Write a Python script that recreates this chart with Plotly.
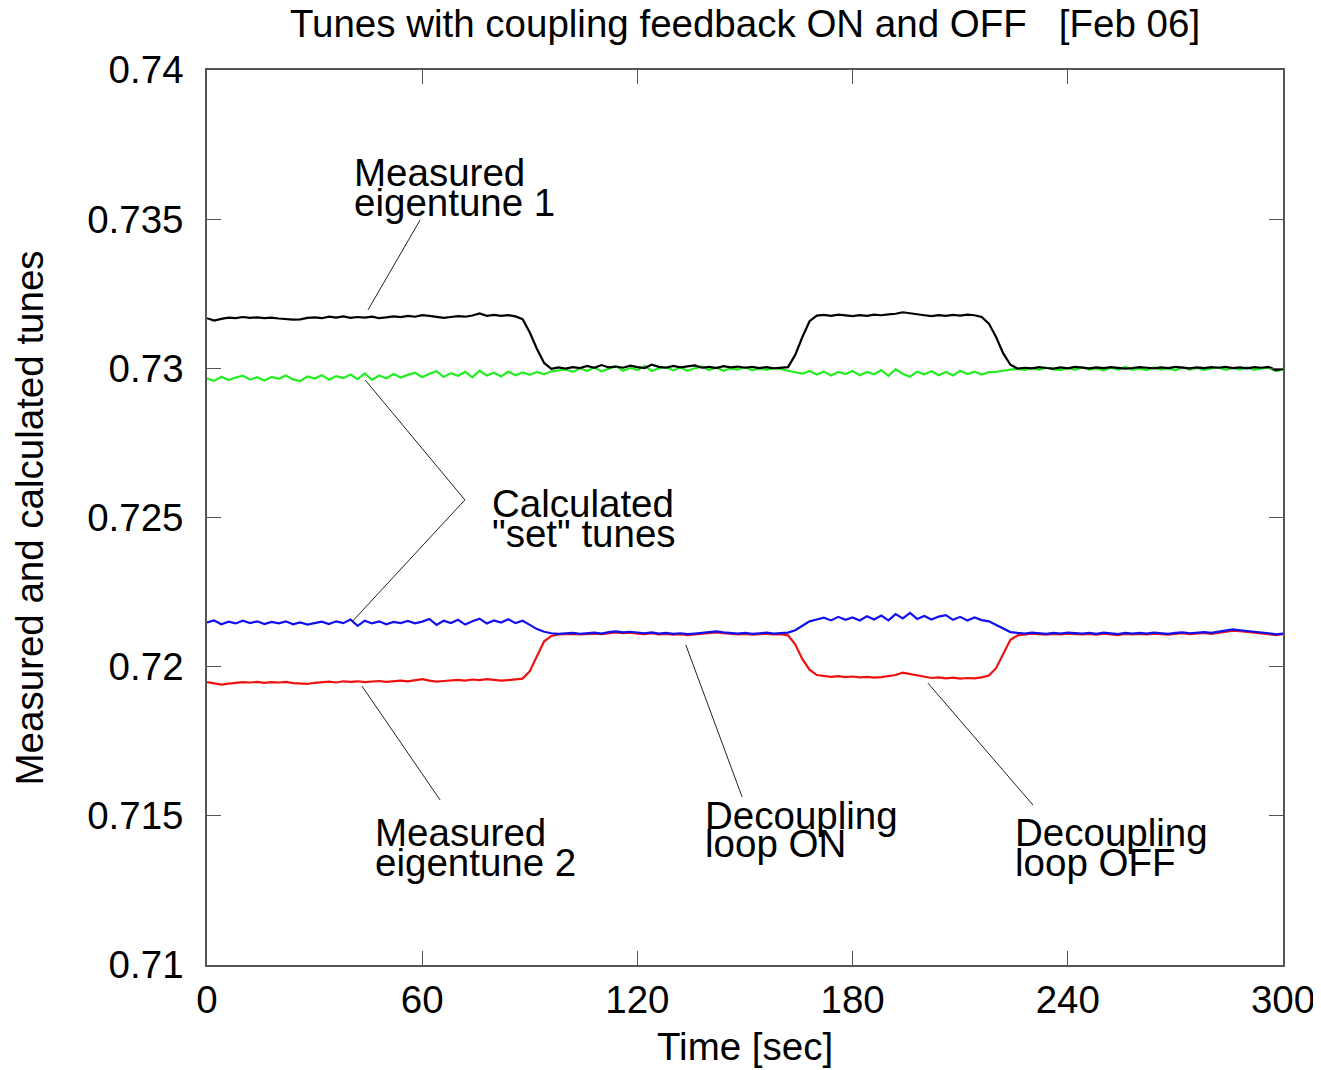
import plotly.graph_objects as go

time_sec = list(range(0, 301, 2))

eigentune_1 = [
    0.73168, 0.73160, 0.73166, 0.73170, 0.73168, 0.73172, 0.73169, 0.73171, 0.73168, 0.73170,
    0.73167, 0.73165, 0.73163, 0.73164, 0.73169, 0.73171, 0.73168, 0.73173, 0.73170, 0.73174,
    0.73169, 0.73172, 0.73170, 0.73173, 0.73168, 0.73171, 0.73174, 0.73172, 0.73176, 0.73173,
    0.73178, 0.73176, 0.73172, 0.73169, 0.73172, 0.73175, 0.73173, 0.73177, 0.73184, 0.73176,
    0.73179, 0.73176, 0.73178, 0.73174, 0.73165, 0.73120, 0.73065, 0.73018, 0.72998, 0.73003,
    0.72999, 0.73004, 0.73001, 0.73008, 0.73002, 0.73011, 0.73003, 0.73006, 0.73002, 0.73009,
    0.73004, 0.73001, 0.73012, 0.73005, 0.73002, 0.73008, 0.73003, 0.73006, 0.73010, 0.73002,
    0.73005, 0.73001, 0.73007, 0.73003, 0.73006, 0.73002, 0.73005, 0.73001, 0.73004, 0.73000,
    0.73002, 0.73004, 0.73045, 0.73105, 0.73158, 0.73177, 0.73179, 0.73176, 0.73180, 0.73177,
    0.73175, 0.73178, 0.73176, 0.73180, 0.73178, 0.73181, 0.73183, 0.73188, 0.73184, 0.73180,
    0.73178, 0.73175, 0.73178, 0.73176, 0.73179, 0.73177, 0.73180, 0.73178, 0.73172, 0.73150,
    0.73105, 0.73050, 0.73012, 0.72999, 0.73002, 0.73000, 0.73004, 0.73001, 0.72999, 0.73003,
    0.73000, 0.73005, 0.73002, 0.73000, 0.73003, 0.73001, 0.73004, 0.73002, 0.72999, 0.73001,
    0.73004, 0.73002, 0.73000, 0.73003, 0.73001, 0.73005, 0.73002, 0.73000, 0.73003, 0.73001,
    0.73004, 0.73002, 0.73005, 0.73001, 0.73003, 0.73000, 0.73004, 0.73002, 0.73005, 0.72994,
    0.72998,
]

set_tune_1 = [
    0.72966, 0.72958, 0.72972, 0.72961, 0.72969, 0.72975, 0.72962, 0.72970, 0.72959, 0.72971,
    0.72965, 0.72976, 0.72963, 0.72957, 0.72973, 0.72966, 0.72977, 0.72962, 0.72974, 0.72967,
    0.72979, 0.72964, 0.72983, 0.72961, 0.72976, 0.72967, 0.72981, 0.72969, 0.72978, 0.72985,
    0.72970, 0.72982, 0.72990, 0.72971, 0.72984, 0.72975, 0.72988, 0.72970, 0.72992, 0.72976,
    0.72985, 0.72973, 0.72989, 0.72977, 0.72986, 0.72978, 0.72988, 0.72980, 0.72990, 0.72992,
    0.72996, 0.72988, 0.73000, 0.72991, 0.73003, 0.72990, 0.72998, 0.73007, 0.72992, 0.73001,
    0.72994, 0.73008, 0.72991, 0.73000, 0.73004, 0.72993, 0.73003, 0.72992, 0.73000, 0.73006,
    0.72994, 0.73003, 0.72992, 0.73000, 0.72996, 0.73004, 0.72993, 0.73000, 0.72995, 0.73001,
    0.72997, 0.72991, 0.72987, 0.72982, 0.72991, 0.72979, 0.72989, 0.72976, 0.72988, 0.72981,
    0.72991, 0.72977, 0.72988, 0.72980, 0.72994, 0.72975, 0.72997, 0.72981, 0.72972, 0.72989,
    0.72980, 0.72990, 0.72977, 0.72988, 0.72976, 0.72992, 0.72981, 0.72989, 0.72979, 0.72987,
    0.72988, 0.72992, 0.72996, 0.72999, 0.72994, 0.73001, 0.72995, 0.73002, 0.72996, 0.72994,
    0.73001, 0.72995, 0.73004, 0.72996, 0.73000, 0.72993, 0.73002, 0.72996, 0.73005, 0.72995,
    0.73000, 0.72994, 0.73003, 0.72996, 0.73000, 0.72993, 0.73004, 0.72996, 0.73001, 0.72995,
    0.73000, 0.73003, 0.72995, 0.73001, 0.72996, 0.73003, 0.72995, 0.73000, 0.73002, 0.72991,
    0.72996,
]

set_tune_2 = [
    0.72148, 0.72155, 0.72142, 0.72151, 0.72145, 0.72154, 0.72146, 0.72152, 0.72143, 0.72150,
    0.72145, 0.72152, 0.72142, 0.72148, 0.72141, 0.72147, 0.72151, 0.72143, 0.72152, 0.72146,
    0.72158, 0.72137, 0.72154, 0.72145, 0.72152, 0.72142, 0.72150, 0.72146, 0.72153, 0.72145,
    0.72151, 0.72160, 0.72140, 0.72154, 0.72146, 0.72157, 0.72141, 0.72152, 0.72161, 0.72145,
    0.72155, 0.72148, 0.72159, 0.72146, 0.72154, 0.72140, 0.72126, 0.72117, 0.72112, 0.72110,
    0.72111, 0.72113, 0.72110, 0.72112, 0.72114, 0.72111, 0.72116, 0.72118, 0.72115, 0.72117,
    0.72114, 0.72112, 0.72115, 0.72111, 0.72113, 0.72110, 0.72112, 0.72109, 0.72111, 0.72113,
    0.72116, 0.72118, 0.72115, 0.72113, 0.72111, 0.72113, 0.72110, 0.72112, 0.72114, 0.72111,
    0.72112, 0.72114, 0.72122, 0.72137, 0.72152, 0.72158, 0.72164, 0.72155, 0.72167, 0.72157,
    0.72165, 0.72155, 0.72169, 0.72158, 0.72171, 0.72155, 0.72176, 0.72162, 0.72180, 0.72160,
    0.72170, 0.72158, 0.72168, 0.72173, 0.72157, 0.72167, 0.72155, 0.72165, 0.72156, 0.72152,
    0.72140, 0.72126, 0.72116, 0.72113, 0.72111, 0.72114, 0.72112, 0.72110, 0.72113, 0.72111,
    0.72114, 0.72112, 0.72111, 0.72113, 0.72110, 0.72114, 0.72112, 0.72109, 0.72113, 0.72111,
    0.72113, 0.72111, 0.72114, 0.72112, 0.72110, 0.72113, 0.72115, 0.72112, 0.72114, 0.72116,
    0.72113, 0.72117, 0.72120, 0.72125, 0.72122, 0.72120, 0.72118, 0.72115, 0.72112, 0.72108,
    0.72111,
]

eigentune_2 = [
    0.71948, 0.71944, 0.71940, 0.71943, 0.71946, 0.71948, 0.71947, 0.71949, 0.71946, 0.71948,
    0.71947, 0.71949, 0.71945, 0.71943, 0.71942, 0.71946, 0.71948, 0.71950, 0.71947, 0.71951,
    0.71949, 0.71951, 0.71948, 0.71950, 0.71952, 0.71949, 0.71951, 0.71953, 0.71951, 0.71955,
    0.71958, 0.71953, 0.71950, 0.71952, 0.71954, 0.71956, 0.71953, 0.71957, 0.71955, 0.71958,
    0.71956, 0.71953, 0.71955, 0.71957, 0.71960, 0.71985, 0.72035, 0.72085, 0.72103, 0.72108,
    0.72109, 0.72110, 0.72108, 0.72110, 0.72111, 0.72109, 0.72113, 0.72115, 0.72112, 0.72114,
    0.72111, 0.72109, 0.72112, 0.72108, 0.72110, 0.72107, 0.72109, 0.72106, 0.72108, 0.72110,
    0.72113, 0.72115, 0.72112, 0.72110, 0.72108, 0.72110, 0.72107, 0.72109, 0.72111, 0.72108,
    0.72109, 0.72105, 0.72075, 0.72025, 0.71990, 0.71972, 0.71968, 0.71966, 0.71968, 0.71965,
    0.71967, 0.71964, 0.71966, 0.71963, 0.71965, 0.71968, 0.71972, 0.71980, 0.71976, 0.71972,
    0.71966, 0.71962, 0.71964, 0.71961, 0.71963, 0.71960, 0.71962, 0.71961, 0.71964, 0.71970,
    0.71995, 0.72045, 0.72090, 0.72105, 0.72109, 0.72111, 0.72109, 0.72107, 0.72110, 0.72108,
    0.72111, 0.72109, 0.72108, 0.72110, 0.72107, 0.72111, 0.72109, 0.72106, 0.72110, 0.72108,
    0.72110, 0.72108, 0.72111, 0.72109, 0.72107, 0.72110, 0.72112, 0.72109, 0.72111, 0.72113,
    0.72110, 0.72114, 0.72117, 0.72121, 0.72119, 0.72117, 0.72115, 0.72112, 0.72109, 0.72106,
    0.72109,
]

x_ticks = [0, 60, 120, 180, 240, 300]
y_ticks = [0.71, 0.715, 0.72, 0.725, 0.73, 0.735, 0.74]

# label text lines: (x, y, text)
label_lines = [
    (40.4, 0.73658, "Measured"), (40.4, 0.73557, "eigentune 1"),
    (78.9, 0.72548, "Calculated"), (78.9, 0.72448, "\"set\" tunes"),
    (46.3, 0.71445, "Measured"), (46.3, 0.71344, "eigentune 2"),
    (138.3, 0.71502, "Decoupling"), (138.3, 0.71408, "loop ON"),
    (224.7, 0.71445, "Decoupling"), (224.7, 0.71344, "loop OFF"),
]

# leader lines (polylines in data coords)
leaders = [
    ([59.4, 44.9], [0.73497, 0.73196]),
    ([44.1, 71.9, 40.4], [0.72961, 0.72559, 0.72150]),
    ([65.0, 43.2], [0.71553, 0.71935]),
    ([149.2, 133.5], [0.71563, 0.72073]),
    ([230.3, 201.0], [0.71536, 0.71945]),
]

FONT = "Liberation Sans, Arial, Helvetica, sans-serif"
FS = 38.5

# the page body adds an 8 px margin, so the figure is 8 px smaller each way
W, H = 1313, 1062

fig = go.Figure()
fig.add_trace(go.Scatter(x=time_sec, y=eigentune_2, mode="lines",
                         line=dict(color="#ee1111", width=2.2), name="Measured eigentune 2"))
fig.add_trace(go.Scatter(x=time_sec, y=set_tune_2, mode="lines",
                         line=dict(color="#1010ee", width=2.2), name="Calculated set tune 2"))
fig.add_trace(go.Scatter(x=time_sec, y=set_tune_1, mode="lines",
                         line=dict(color="#22ee22", width=2.2), name="Calculated set tune 1"))
fig.add_trace(go.Scatter(x=time_sec, y=eigentune_1, mode="lines",
                         line=dict(color="#000000", width=2.2), name="Measured eigentune 1"))

for lx, ly in leaders:
    fig.add_trace(go.Scatter(x=lx, y=ly, mode="lines",
                             line=dict(color="#222222", width=1), hoverinfo="skip",
                             showlegend=False))

annotations = []
for x, y, t in label_lines:
    annotations.append(dict(x=x, y=y, xref="x", yref="y", text=t, showarrow=False,
                            xanchor="left", yanchor="middle",
                            font=dict(family=FONT, size=FS, color="black")))

annotations.append(dict(x=0.5, y=-0.091, xref="paper", yref="paper", text="Time [sec]",
                        showarrow=False, xanchor="center", yanchor="middle",
                        font=dict(family=FONT, size=FS, color="black")))
annotations.append(dict(x=-0.1645, y=0.5, xref="paper", yref="paper",
                        text="Measured and calculated tunes", textangle=-90,
                        showarrow=False, xanchor="center", yanchor="middle",
                        font=dict(family=FONT, size=FS, color="black")))

fig.update_layout(
    width=W, height=H,
    margin=dict(l=199, r=38, t=62, b=105, autoexpand=False),
    paper_bgcolor="white", plot_bgcolor="white",
    showlegend=False,
    font=dict(family=FONT, size=FS, color="black"),
    title=dict(text="Tunes with coupling feedback ON and OFF   [Feb 06]",
               x=0.5, xref="paper", y=1 - 16 / H, yref="container",
               xanchor="center", yanchor="middle",
               font=dict(family=FONT, size=FS, color="black")),
    annotations=annotations,
)

fig.update_xaxes(range=[0, 300], tickvals=x_ticks, ticktext=[str(v) for v in x_ticks],
                 ticks="inside", ticklen=14, tickwidth=1.2, tickcolor="#555555",
                 showline=True, linecolor="#555555", linewidth=1.5, mirror="ticks",
                 showgrid=False, zeroline=False, ticklabelstandoff=0, automargin=False,
                 tickfont=dict(family=FONT, size=FS, color="black"))
fig.update_yaxes(range=[0.71, 0.74], tickvals=y_ticks, ticktext=[f"{v:g}" for v in y_ticks],
                 ticks="inside", ticklen=14, tickwidth=1.2, tickcolor="#555555",
                 showline=True, linecolor="#555555", linewidth=1.5, mirror="ticks",
                 showgrid=False, zeroline=False, ticklabelstandoff=14, automargin=False,
                 tickfont=dict(family=FONT, size=FS, color="black"))

fig.write_html("out.html")
